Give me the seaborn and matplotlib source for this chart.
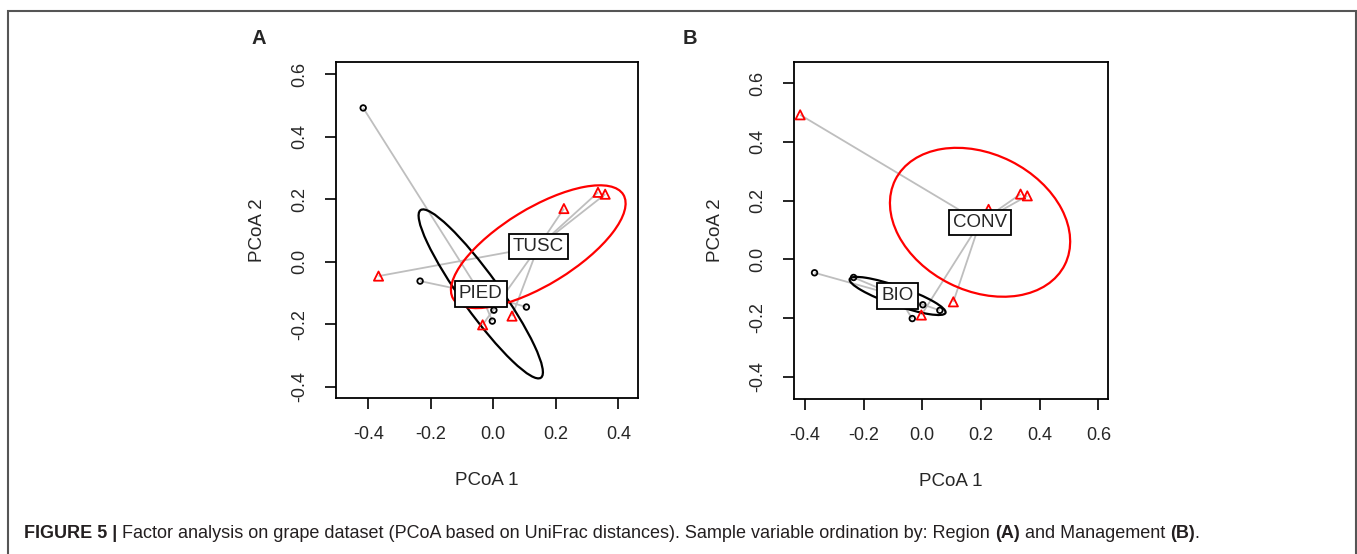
import numpy as np
import pandas as pd
import matplotlib
matplotlib.use("Agg")
import matplotlib.pyplot as plt
import seaborn as sns
from matplotlib.patches import Ellipse, Rectangle

# ---------------- data ----------------
pcoa1 = [-0.416, -0.234, 0.002, -0.003, 0.106, -0.367, 0.335, 0.358, 0.226, 0.060, -0.034]
pcoa2 = [0.492, -0.062, -0.155, -0.190, -0.145, -0.046, 0.222, 0.216, 0.170, -0.174, -0.202]
region = ["PIED", "PIED", "PIED", "PIED", "PIED", "TUSC", "TUSC", "TUSC", "TUSC", "TUSC", "TUSC"]
management = ["CONV", "BIO", "BIO", "CONV", "CONV", "BIO", "CONV", "CONV", "CONV", "BIO", "BIO"]

# group centres and ellipses, panel A (Region)
region_groups = ["PIED", "TUSC"]
region_cx = [-0.040, 0.144]
region_cy = [-0.103, 0.048]
region_ell_a = [0.330, 0.319]      # semi-major
region_ell_b = [0.061, 0.122]      # semi-minor
region_ell_angle = [-54.3, 31.5]   # degrees

# group centres and ellipses, panel B (Management)
mgmt_groups = ["BIO", "CONV"]
mgmt_cx = [-0.084, 0.197]
mgmt_cy = [-0.125, 0.126]
mgmt_ell_a = [0.173, 0.323]
mgmt_ell_b = [0.032, 0.233]
mgmt_ell_angle = [-19.4, -26.6]

a_xticks = [-0.4, -0.2, 0.0, 0.2, 0.4]
a_yticks = [-0.4, -0.2, 0.0, 0.2, 0.4, 0.6]
b_xticks = [-0.4, -0.2, 0.0, 0.2, 0.4, 0.6]
b_yticks = [-0.4, -0.2, 0.0, 0.2, 0.4, 0.6]

caption_parts = [("FIGURE 5 |", "bold"),
                 ("Factor analysis on grape dataset (PCoA based on UniFrac distances). Sample variable ordination by: Region", "normal"),
                 ("(A)", "bold"), ("and Management", "normal"), ("(B)", "bold"), (".", "normal")]

# ---------------- style ----------------
sns.set_style("white")
plt.rcParams["font.family"] = ["Liberation Sans", "DejaVu Sans"]
plt.rcParams["axes.unicode_minus"] = False

W, H = 1357, 554
fig = plt.figure(figsize=(W / 100, H / 100), dpi=100)
fig.patch.set_facecolor("white")

def px_axes(l, r, t, b):
    return fig.add_axes([l / W, 1 - b / H, (r - l) / W, (b - t) / H])

axA = px_axes(336, 638, 62, 398.3)
axB = px_axes(794, 1108.3, 61.7, 399)

COLORS = ["black", "red"]
MARKERS = ["o", "^"]
SIZES = [16, 44]


def panel(ax, grouping, groups, cx, cy, ea, eb, eang, xlim, ylim, xticks, yticks, letter, letter_x):
    df = pd.DataFrame({"x": pcoa1, "y": pcoa2, "group": grouping})
    # spider lines
    for g, x0, y0 in zip(groups, cx, cy):
        sub = df[df["group"] == g]
        for x, y in zip(sub["x"], sub["y"]):
            ax.plot([x0, x], [y0, y], color="#BEBEBE", lw=1.3, zorder=1, solid_capstyle="butt")
    # points
    for g, col, mk, s in zip(groups, COLORS, MARKERS, SIZES):
        sub = df[df["group"] == g]
        sns.scatterplot(data=sub, x="x", y="y", marker=mk, s=s, color=col, ax=ax,
                        legend=False, zorder=3)
        coll = ax.collections[-1]
        coll.set_facecolor("none")
        coll.set_edgecolor(col)
        coll.set_linewidth(1.3)
    # ellipses
    for col, x0, y0, a, b, ang in zip(COLORS, cx, cy, ea, eb, eang):
        ax.add_patch(Ellipse((x0, y0), 2 * a, 2 * b, angle=ang, fill=False,
                             ec=col, lw=1.6, zorder=2))
    # labels
    for g, x0, y0 in zip(groups, cx, cy):
        ax.text(x0, y0, g, ha="center", va="center", fontsize=13.5, zorder=5,
                bbox=dict(boxstyle="square,pad=0.22", fc="white", ec="black", lw=1.3))
    ax.set_xlim(*xlim)
    ax.set_ylim(*ylim)
    ax.set_xticks(xticks)
    ax.set_yticks(yticks)
    ax.set_xticklabels([f"{v:.1f}" for v in xticks])
    ax.set_yticklabels([f"{v:.1f}" for v in yticks], rotation=90, va="center")
    ax.tick_params(direction="out", length=8, width=1.2, color="black", labelsize=13,
                   bottom=True, left=True)
    ax.tick_params(axis="x", pad=12)
    ax.tick_params(axis="y", pad=12)
    for sp in ax.spines.values():
        sp.set_visible(True)
        sp.set_color("black")
        sp.set_linewidth(1.3)
    ax.set_xlabel("PCoA 1", fontsize=13.5)
    ax.set_ylabel("PCoA 2", fontsize=13.5)
    bb = ax.get_position()
    ax.xaxis.set_label_coords(0.5, -(480.5 - 398.5) / (bb.height * H))
    ax.xaxis.label.set_va("center")
    ax.yaxis.set_label_coords(-79 / (bb.width * W), 0.5)
    ax.yaxis.label.set_va("center")
    fig.text(letter_x / W, 1 - 38.5 / H, letter, fontsize=14.5, fontweight="bold",
             ha="center", va="center")


panel(axA, region, region_groups, region_cx, region_cy, region_ell_a, region_ell_b,
      region_ell_angle, (-0.503, 0.463), (-0.437, 0.639), a_xticks, a_yticks, "A", 259)
panel(axB, management, mgmt_groups, mgmt_cx, mgmt_cy, mgmt_ell_a, mgmt_ell_b,
      mgmt_ell_angle, (-0.437, 0.634), (-0.476, 0.673), b_xticks, b_yticks, "B", 690)

# outer frame
fig.patches.append(Rectangle((8 / W, -0.05), (1355.5 - 8) / W, 1.05 - 10.5 / H,
                             transform=fig.transFigure, fill=False, ec="#555555", lw=1.5))

# caption
fig.canvas.draw()
renderer = fig.canvas.get_renderer()
cap_fs = 13.0
probe = fig.text(0, 0, "a a", fontsize=cap_fs)
w2 = probe.get_window_extent(renderer).width
probe.set_text("aa")
w1 = probe.get_window_extent(renderer).width
probe.remove()
space = w2 - w1
x = 24.0
for i, (txt, wt) in enumerate(caption_parts):
    t = fig.text(x / W, 1 - 533.5 / H, txt, fontsize=cap_fs, fontweight=wt,
                 ha="left", va="center", color="#231f20")
    w = t.get_window_extent(renderer).width
    nxt = caption_parts[i + 1][0] if i + 1 < len(caption_parts) else ""
    x += w + (0 if nxt == "." else space)

fig.savefig("out.png", dpi=100)
